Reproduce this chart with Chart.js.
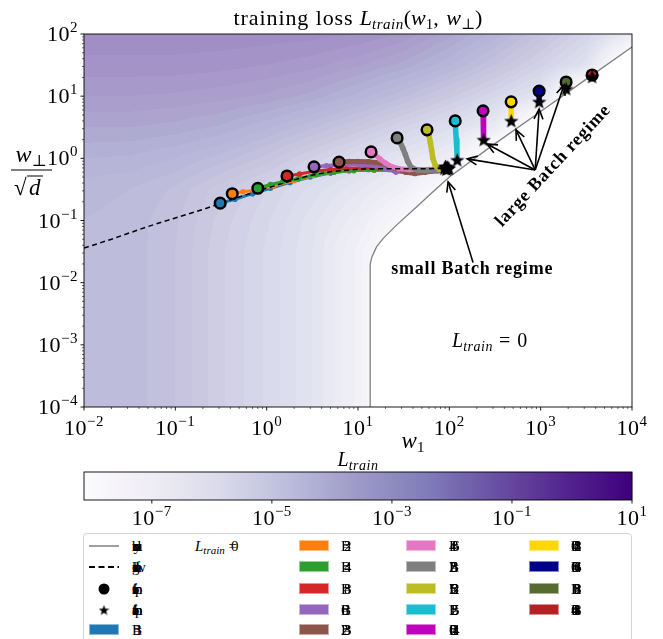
<!DOCTYPE html>
<html>
<head>
<meta charset="utf-8">
<script src="https://cdn.jsdelivr.net/npm/chart.js@4.4.1/dist/chart.umd.min.js"></script>
<style>
 html,body{margin:0;padding:0;background:#fff;overflow:hidden}
 #wrap{position:relative;width:663px;height:639px;overflow:hidden}
 #c{position:absolute;left:0;top:0}
 #legend{position:absolute;left:83px;top:533px;width:549px;height:130px;box-sizing:border-box;border:1px solid #d4d4d4;border-radius:4px;background:#fff;font-family:'Liberation Serif',serif;font-size:15px;color:#000}
 .item{position:absolute;height:20px}
 .item canvas{position:absolute;left:0;top:0}
 .lab{position:absolute;top:1px;white-space:nowrap;line-height:18px}
 .stk{position:absolute;left:0;top:0}
</style>
</head>
<body>
<div id="wrap"><canvas id="c" width="663" height="639"></canvas><div id="legend"></div></div>
<script>
// ---------------- data ----------------
const w1TickExps = [-2, -1, 0, 1, 2, 3, 4];
const wpTickExps = [-4, -3, -2, -1, 0, 1, 2];
const cbTickExps = [-7, -5, -3, -1, 1];
const cbRange = [-8.13, 1];

// L_train = 0 boundary
const boundaryW1 = [13.6, 13.6, 14.2, 16, 19, 26.6, 44, 73, 100, 300, 1000, 3000, 10000];
const boundaryWp = [1e-4, 0.02, 0.026, 0.038, 0.052, 0.085, 0.167, 0.33, 0.5, 1.63, 5.67, 17.8, 62];

// dashed reference curve
const dashW1 = [0.01, 0.02, 0.05, 0.1, 0.2, 0.3, 0.5, 1, 2, 3, 5, 10, 20, 50, 92];
const dashWp = [0.036, 0.05, 0.08, 0.11, 0.15, 0.185, 0.24, 0.33, 0.45, 0.53, 0.61, 0.67, 0.68, 0.68, 0.69];

// trajectories (first point = start circle, last point = final star)
const seriesColors = ['#1f77b4', '#ff7f0e', '#2ca02c', '#d62728', '#9467bd', '#8c564b', '#e377c2', '#7f7f7f', '#bcbd22', '#17becf', '#bf00bf', '#ffd700', '#00008b', '#556b2f', '#b22222'];
const seriesLabels = ['B = 1', 'B = 2', 'B = 4', 'B = 8', 'B = 16', 'B = 32', 'B = 64', 'B = 128', 'B = 256', 'B = 512', 'B = 1024', 'B = 2048', 'B = 4096', 'B = 8192', 'B = 16384'];
const trajW1 = [
  [0.31, 0.45, 0.7, 1.1, 1.8, 3, 5, 8, 13, 22, 38, 60, 88],
  [0.42, 0.55, 0.8, 1.2, 2, 3.3, 5.5, 9, 15, 25, 42, 65, 90],
  [0.8, 1.1, 1.5, 2.2, 3.5, 5.5, 9, 15, 25, 40, 62, 93],
  [1.67, 2.3, 3.3, 5, 7.5, 11, 17, 27, 42, 65, 95],
  [3.3, 4.5, 6, 8, 11, 15, 20, 26, 35, 50, 70, 91],
  [6.2, 8, 10, 13, 17, 21, 26, 33, 42, 55, 75, 96],
  [13.9, 15.5, 17.5, 20, 23, 28, 36, 48, 65, 94],
  [26.8, 29, 31, 33, 35, 38, 45, 58, 75, 97],
  [57, 60, 62, 64, 66, 70, 78, 88, 99],
  [116, 117, 119, 121, 122],
  [234, 236, 238],
  [475, 475, 476],
  [962, 962, 963],
  [1900, 1900],
  [3660, 3660]
];
const trajWp = [
  [0.19, 0.22, 0.27, 0.33, 0.41, 0.5, 0.58, 0.63, 0.66, 0.66, 0.65, 0.66, 0.68],
  [0.27, 0.29, 0.31, 0.36, 0.44, 0.53, 0.6, 0.64, 0.65, 0.64, 0.63, 0.64, 0.72],
  [0.33, 0.38, 0.42, 0.47, 0.55, 0.6, 0.64, 0.65, 0.64, 0.63, 0.64, 0.66],
  [0.52, 0.56, 0.62, 0.66, 0.69, 0.7, 0.7, 0.68, 0.66, 0.65, 0.71],
  [0.73, 0.76, 0.79, 0.8, 0.78, 0.75, 0.68, 0.6, 0.6, 0.62, 0.64, 0.74],
  [0.87, 0.89, 0.89, 0.88, 0.85, 0.78, 0.68, 0.6, 0.57, 0.6, 0.63, 0.68],
  [1.27, 1.12, 0.97, 0.84, 0.74, 0.68, 0.66, 0.66, 0.66, 0.72],
  [2.13, 1.8, 1.45, 1.15, 0.9, 0.72, 0.64, 0.64, 0.65, 0.7],
  [2.87, 2.3, 1.8, 1.35, 1.0, 0.78, 0.67, 0.66, 0.69],
  [4.0, 3.0, 2.0, 1.3, 0.94],
  [5.8, 3.6, 1.98],
  [8.1, 5.8, 4.0],
  [12.1, 10, 8.1],
  [16.9, 13.1],
  [21.9, 20.4]
];

// estimated log10(L_train) read from the background shading
const gridLogW1 = [-2, -1.5, -1, -0.5, 0, 0.5, 1, 1.5, 2, 2.5, 3, 3.5, 4];
const gridLogWp = [-4, -3, -2, -1.5, -1, -0.5, 0, 0.5, 1, 1.5, 2];
const lossGrid = [
  [-3.0, -3.1, -3.5, -4.2, -4.8, -5.5, -6.6, -9, -9, -9, -9, -9, -9],
  [-3.0, -3.1, -3.5, -4.2, -4.8, -5.5, -6.6, -9, -9, -9, -9, -9, -9],
  [-3.0, -3.1, -3.5, -4.2, -4.8, -5.5, -6.6, -9, -9, -9, -9, -9, -9],
  [-3.0, -3.1, -3.5, -4.2, -4.8, -5.5, -6.6, -8, -9, -9, -9, -9, -9],
  [-3.0, -3.1, -3.45, -4.1, -4.7, -5.4, -6.2, -7.4, -9, -9, -9, -9, -9],
  [-2.9, -3.0, -3.3, -3.9, -4.5, -5.1, -5.7, -6.4, -8, -9, -9, -9, -9],
  [-2.5, -2.55, -2.75, -3.1, -3.6, -4.3, -5.0, -5.6, -6.2, -9, -9, -9, -9],
  [-2.0, -2.0, -2.1, -2.3, -2.7, -3.2, -3.8, -4.5, -5.2, -6.0, -9, -9, -9],
  [-1.5, -1.5, -1.55, -1.65, -1.8, -2.1, -2.6, -3.2, -3.9, -4.7, -5.6, -9, -9],
  [-1.1, -1.1, -1.1, -1.15, -1.25, -1.4, -1.7, -2.1, -2.7, -3.5, -4.4, -5.4, -9],
  [-0.8, -0.8, -0.8, -0.82, -0.85, -0.9, -1.0, -1.3, -1.9, -2.6, -3.5, -4.5, -6.0]
];

const legendLineLabels = ['boundary', 'gradient flow', 'first point', 'final point'];

// annotations (data coordinates)
const largeArrowTail = [871, 0.65];
const largeArrowHeads = [[157, 0.98], [259, 1.7], [537, 2.87], [962, 6.2], [1807, 15.2]];
const smallArrow = [[182, 0.021], [97, 0.42]];
const smallText = {text: 'small Batch regime', at: [178, 0.0161]};
const largeText = {text: 'large Batch regime', at: [1371, 0.755]};
const zeroText = {at: [280, 0.00116]};

// ---------------- helpers ----------------
const SERIF = "'Liberation Serif', 'DejaVu Serif', serif";
const PURPLES = [[252,251,253],[239,237,245],[218,218,235],[188,189,220],[158,154,200],[128,125,186],[106,81,163],[84,39,143],[63,0,125]];
function purples(t) {
  t = Math.max(0, Math.min(1, t));
  const s = t * 8, i = Math.min(7, Math.floor(s)), f = s - i;
  const a = PURPLES[i], b = PURPLES[i + 1];
  return [a[0] + (b[0] - a[0]) * f, a[1] + (b[1] - a[1]) * f, a[2] + (b[2] - a[2]) * f];
}
function findIdx(arr, v) {
  if (v <= arr[0]) return [0, 0];
  for (let i = 0; i < arr.length - 1; i++) {
    if (v <= arr[i + 1]) return [i, (v - arr[i]) / (arr[i + 1] - arr[i])];
  }
  return [arr.length - 2, 1];
}
function logLoss(lx, ly) {
  const [i, fx] = findIdx(gridLogW1, lx);
  const [j, fy] = findIdx(gridLogWp, ly);
  const a = lossGrid[j][i], b = lossGrid[j][i + 1], c = lossGrid[j + 1][i], d = lossGrid[j + 1][i + 1];
  return (a * (1 - fx) + b * fx) * (1 - fy) + (c * (1 - fx) + d * fx) * fy;
}
function setLS(ctx, v) { if ('letterSpacing' in ctx) ctx.letterSpacing = (v || 0) + 'px'; }
function richWidth(ctx, parts) {
  let w = 0;
  for (const p of parts) { ctx.font = p.f; setLS(ctx, p.ls); w += ctx.measureText(p.t).width + (p.dx || 0); }
  setLS(ctx, 0);
  return w;
}
function drawRich(ctx, parts, x, y, align) {
  const w = richWidth(ctx, parts);
  let cx = align === 'center' ? x - w / 2 : align === 'right' ? x - w : x;
  ctx.textAlign = 'left'; ctx.textBaseline = 'alphabetic';
  for (const p of parts) {
    ctx.font = p.f; setLS(ctx, p.ls);
    ctx.fillText(p.t, cx, y + (p.dy || 0));
    cx += ctx.measureText(p.t).width + (p.dx || 0);
  }
  setLS(ctx, 0);
}
function powParts(e) {
  return [{t: '10', f: '22px ' + SERIF, ls: 0.5}, {t: (e < 0 ? '\u2212' + (-e) : '' + e), f: '15px ' + SERIF, dy: -9, ls: 0.5}];
}
function arrow(ctx, x0, y0, x1, y1) {
  ctx.beginPath(); ctx.moveTo(x0, y0); ctx.lineTo(x1, y1); ctx.stroke();
  const a = Math.atan2(y1 - y0, x1 - x0), L = 11, w = 0.42;
  ctx.beginPath();
  ctx.moveTo(x1 - L * Math.cos(a - w), y1 - L * Math.sin(a - w));
  ctx.lineTo(x1, y1);
  ctx.lineTo(x1 - L * Math.cos(a + w), y1 - L * Math.sin(a + w));
  ctx.stroke();
}
function makeStar(size, color) {
  const c = document.createElement('canvas');
  c.width = size; c.height = size;
  const g = c.getContext('2d');
  const R = size / 2, r = R * 0.42;
  g.beginPath();
  for (let k = 0; k < 10; k++) {
    const ang = -Math.PI / 2 + k * Math.PI / 5;
    const rad = k % 2 === 0 ? R : r;
    const px = R + rad * Math.cos(ang), py = R + 0.5 + rad * Math.sin(ang);
    k === 0 ? g.moveTo(px, py) : g.lineTo(px, py);
  }
  g.closePath(); g.fillStyle = color; g.fill();
  return c;
}
const starImg = makeStar(15, '#000');

// ---------------- plugins ----------------
let fieldCache = null;
const fieldPlugin = {
  id: 'field',
  beforeDatasetsDraw(chart) {
    const {ctx, chartArea: ca, scales: {x, y}} = chart;
    const W = Math.round(ca.right - ca.left), H = Math.round(ca.bottom - ca.top);
    if (!fieldCache) {
      const img = ctx.createImageData(W, H);
      const step = 0.25, alpha = 0.6;
      const lxs = [], lys = [];
      for (let i = 0; i < W; i++) lxs.push(Math.log10(x.getValueForPixel(ca.left + i + 0.5)));
      for (let j = 0; j < H; j++) lys.push(Math.log10(y.getValueForPixel(ca.top + j + 0.5)));
      for (let j = 0; j < H; j++) {
        for (let i = 0; i < W; i++) {
          const L = logLoss(lxs[i], lys[j]);
          const q = Math.floor(L / step) * step + step / 2;
          const col = purples((q - cbRange[0]) / (cbRange[1] - cbRange[0]));
          const k = (j * W + i) * 4;
          img.data[k] = alpha * col[0] + (1 - alpha) * 255;
          img.data[k + 1] = alpha * col[1] + (1 - alpha) * 255;
          img.data[k + 2] = alpha * col[2] + (1 - alpha) * 255;
          img.data[k + 3] = 255;
        }
      }
      fieldCache = img;
    }
    ctx.putImageData(fieldCache, Math.round(ca.left), Math.round(ca.top));
  }
};

const decorPlugin = {
  id: 'decor',
  afterDraw(chart) {
    const {ctx, chartArea: ca, scales: {x, y}} = chart;
    ctx.save();
    ctx.fillStyle = '#000'; ctx.strokeStyle = '#000';
    // annotations
    ctx.lineWidth = 1.6;
    const tx = x.getPixelForValue(largeArrowTail[0]), ty = y.getPixelForValue(largeArrowTail[1]);
    for (const h of largeArrowHeads) arrow(ctx, tx, ty, x.getPixelForValue(h[0]), y.getPixelForValue(h[1]));
    arrow(ctx, x.getPixelForValue(smallArrow[0][0]), y.getPixelForValue(smallArrow[0][1]), x.getPixelForValue(smallArrow[1][0]), y.getPixelForValue(smallArrow[1][1]));
    ctx.font = 'bold 18px ' + SERIF; ctx.textAlign = 'center'; ctx.textBaseline = 'middle';
    setLS(ctx, 0.8);
    ctx.fillText(smallText.text, x.getPixelForValue(smallText.at[0]), y.getPixelForValue(smallText.at[1]));
    ctx.save();
    ctx.translate(x.getPixelForValue(largeText.at[0]), y.getPixelForValue(largeText.at[1]));
    ctx.rotate(-47 * Math.PI / 180);
    ctx.fillText(largeText.text, 0, 0);
    ctx.restore();
    setLS(ctx, 0);
    drawRich(ctx, [{t: 'L', f: 'italic 20px ' + SERIF}, {t: 'train', f: 'italic 14px ' + SERIF, dy: 4, ls: 0.5}, {t: ' = 0', f: '20px ' + SERIF, ls: 1}],
      x.getPixelForValue(zeroText.at[0]), y.getPixelForValue(zeroText.at[1]) + 6, 'center');

    // spines
    ctx.lineWidth = 0.9;
    ctx.strokeRect(ca.left, ca.top, ca.right - ca.left, ca.bottom - ca.top);
    // ticks
    const minorMul = [2, 3, 4, 5, 6, 7, 8, 9];
    ctx.beginPath();
    for (let e = -2; e < 4; e++) for (const m of minorMul) {
      const px = x.getPixelForValue(m * Math.pow(10, e));
      ctx.moveTo(px, ca.bottom); ctx.lineTo(px, ca.bottom + 2);
    }
    for (let e = -4; e < 2; e++) for (const m of minorMul) {
      const py = y.getPixelForValue(m * Math.pow(10, e));
      ctx.moveTo(ca.left, py); ctx.lineTo(ca.left - 2, py);
    }
    ctx.lineWidth = 0.6; ctx.stroke();
    ctx.beginPath();
    for (const e of w1TickExps) { const px = x.getPixelForValue(Math.pow(10, e)); ctx.moveTo(px, ca.bottom); ctx.lineTo(px, ca.bottom + 3.5); }
    for (const e of wpTickExps) { const py = y.getPixelForValue(Math.pow(10, e)); ctx.moveTo(ca.left, py); ctx.lineTo(ca.left - 3.5, py); }
    ctx.lineWidth = 0.9; ctx.stroke();
    // tick labels
    for (const e of w1TickExps) drawRich(ctx, powParts(e), x.getPixelForValue(Math.pow(10, e)), ca.bottom + 28, 'center');
    for (const e of wpTickExps) drawRich(ctx, powParts(e), ca.left - 6, y.getPixelForValue(Math.pow(10, e)) + 7, 'right');
    // axis labels
    drawRich(ctx, [{t: 'w', f: 'italic 23px ' + SERIF}, {t: '1', f: '15px ' + SERIF, dy: 4}], 413, 448, 'center');
    drawRich(ctx, [{t: 'w', f: 'italic 24px ' + SERIF}, {t: '\u22a5', f: '16px ' + SERIF, dy: 4}], 31, 162, 'center');
    ctx.lineWidth = 1;
    ctx.beginPath(); ctx.moveTo(11, 170); ctx.lineTo(52, 170); ctx.stroke();
    ctx.font = '23px ' + SERIF; ctx.textAlign = 'left'; ctx.textBaseline = 'alphabetic';
    ctx.fillText('\u221a', 14, 195);
    ctx.font = 'italic 23px ' + SERIF; ctx.fillText('d', 29, 195);
    ctx.beginPath(); ctx.moveTo(27, 176); ctx.lineTo(43, 176); ctx.stroke();
    // title
    const TF = '22px ' + SERIF, TI = 'italic 22px ' + SERIF, TS = '15px ' + SERIF;
    drawRich(ctx, [
      {t: 'training loss ', f: TF, ls: 0.9},
      {t: 'L', f: TI}, {t: 'train', f: 'italic 15px ' + SERIF, dy: 4, ls: 0.5},
      {t: '(', f: TF}, {t: 'w', f: TI}, {t: '1', f: TS, dy: 4},
      {t: ', ', f: TF, ls: 1}, {t: 'w', f: TI}, {t: '\u22a5', f: TS, dy: 4},
      {t: ')', f: TF}
    ], (ca.left + ca.right) / 2, 25, 'center');

    // colorbar
    const cbL = ca.left, cbR = ca.right, cbT = 472, cbB = 500;
    for (let i = 0; i < cbR - cbL; i++) {
      const col = purples((i + 0.5) / (cbR - cbL));
      ctx.fillStyle = `rgb(${col[0] | 0},${col[1] | 0},${col[2] | 0})`;
      ctx.fillRect(cbL + i, cbT, 1.2, cbB - cbT);
    }
    ctx.fillStyle = '#000'; ctx.lineWidth = 0.9;
    ctx.strokeRect(cbL, cbT, cbR - cbL, cbB - cbT);
    ctx.beginPath();
    for (const e of cbTickExps) {
      const px = cbL + (e - cbRange[0]) / (cbRange[1] - cbRange[0]) * (cbR - cbL);
      ctx.moveTo(px, cbB); ctx.lineTo(px, cbB + 3.5);
    }
    ctx.stroke();
    for (const e of cbTickExps) {
      const px = cbL + (e - cbRange[0]) / (cbRange[1] - cbRange[0]) * (cbR - cbL);
      drawRich(ctx, powParts(e), px, cbB + 25, 'center');
    }
    drawRich(ctx, [{t: 'L', f: 'italic 20px ' + SERIF}, {t: 'train', f: 'italic 14px ' + SERIF, dy: 4, ls: 0.5}], (cbL + cbR) / 2, 466, 'center');
    ctx.restore();
  }
};

// ---------------- datasets ----------------
const pts = (xs, ys) => xs.map((v, i) => ({x: v, y: ys[i]}));
const lineWidths = [3, 3, 3, 3.2, 3.5, 5, 5, 5.5, 5.5, 5.5, 5.5, 5.5, 5.5, 5.5, 4];
const datasets = [];
datasets.push({label: 'stars', data: trajW1.map((xs, i) => ({x: xs[xs.length - 1], y: trajWp[i][trajWp[i].length - 1]})),
  showLine: false, pointStyle: starImg, pointRadius: 7, order: 0});
datasets.push({label: 'circles', data: trajW1.map((xs, i) => ({x: xs[0], y: trajWp[i][0]})),
  showLine: false, pointStyle: 'circle', pointRadius: 5.3, pointBackgroundColor: seriesColors, pointBorderColor: '#000', pointBorderWidth: 2.5, order: 1});
datasets.push({label: 'dashed', data: pts(dashW1, dashWp), borderColor: '#000', borderWidth: 1.5, borderDash: [5, 3.5], pointRadius: 0, order: 2});
trajW1.forEach((xs, i) => {
  datasets.push({label: seriesLabels[i], data: pts(xs, trajWp[i]), borderColor: seriesColors[i], backgroundColor: seriesColors[i],
    borderWidth: lineWidths[i], pointRadius: i < 9 ? 2.8 : 0, pointBorderWidth: 0, borderCapStyle: 'round', borderJoinStyle: 'round',
    order: 50 - i});
});
datasets.push({label: 'boundary', data: pts(boundaryW1, boundaryWp), borderColor: '#808080', borderWidth: 1.3, pointRadius: 0,
  fill: 'start', backgroundColor: '#ffffff', order: 100});

new Chart(document.getElementById('c'), {
  type: 'line',
  data: {datasets},
  options: {
    responsive: false, animation: false, devicePixelRatio: 1,
    layout: {padding: {left: 0, right: 31, top: 34, bottom: 0}},
    plugins: {legend: {display: false}, tooltip: {enabled: false}, title: {display: false}},
    elements: {line: {tension: 0}},
    scales: {
      x: {type: 'logarithmic', min: 1e-2, max: 1e4, grid: {display: false}, border: {display: false}, ticks: {display: false},
        afterFit(s) { s.height = 232; }},
      y: {type: 'logarithmic', min: 1e-4, max: 1e2, grid: {display: false}, border: {display: false}, ticks: {display: false},
        afterFit(s) { s.width = 84; }}
    }
  },
  plugins: [fieldPlugin, decorPlugin]
});

// ---------------- legend ----------------
const legend = document.getElementById('legend');
const rowTops = [2, 23, 45, 66, 86];
const colHandle = [4, 214, 321, 444];
const colLabel = [48, 257, 365, 487];
function stacked(text) {
  const span = document.createElement('span');
  span.className = 'lab';
  span.style.position = 'absolute';
  const chars = text.replace(/ /g, '');
  for (let k = 0; k < chars.length; k++) {
    const s = document.createElement('span'); s.className = 'stk'; s.textContent = chars[k];
    s.style.left = (k % 3) * 1.5 + 'px';
    span.appendChild(s);
  }
  return span;
}
const entries = [];
entries.push({kind: 'line', label: legendLineLabels[0], math: true});
entries.push({kind: 'dash', label: legendLineLabels[1]});
entries.push({kind: 'circle', label: legendLineLabels[2]});
entries.push({kind: 'star', label: legendLineLabels[3]});
seriesColors.forEach((c, i) => entries.push({kind: 'patch', color: c, label: seriesLabels[i]}));
entries.forEach((en, idx) => {
  const col = Math.floor(idx / 5), row = idx % 5;
  const item = document.createElement('div');
  item.className = 'item';
  item.style.left = '0px'; item.style.top = rowTops[row] + 'px'; item.style.width = '540px';
  const cv = document.createElement('canvas'); cv.width = 32; cv.height = 20;
  cv.style.left = colHandle[col] + 'px';
  const g = cv.getContext('2d');
  if (en.kind === 'line') { g.strokeStyle = '#808080'; g.lineWidth = 1.5; g.beginPath(); g.moveTo(1, 10); g.lineTo(31, 10); g.stroke(); }
  if (en.kind === 'dash') { g.strokeStyle = '#000'; g.lineWidth = 1.8; g.setLineDash([6, 3.5]); g.beginPath(); g.moveTo(1, 10); g.lineTo(31, 10); g.stroke(); }
  if (en.kind === 'circle') { g.fillStyle = '#000'; g.beginPath(); g.arc(16, 10, 5.5, 0, 2 * Math.PI); g.fill(); }
  if (en.kind === 'star') { g.drawImage(makeStar(11, '#000'), 10.5, 4.5); }
  if (en.kind === 'patch') { g.fillStyle = en.color; g.fillRect(1, 4, 30, 11); g.strokeStyle = 'rgba(255,255,255,0.5)'; g.strokeRect(1.5, 4.5, 29, 10); }
  item.appendChild(cv);
  const lab = stacked(en.label);
  lab.style.left = colLabel[col] + 'px';
  item.appendChild(lab);
  if (en.math) {
    const m = document.createElement('span');
    m.className = 'lab'; m.style.left = '111px';
    m.innerHTML = '<i>L</i><sub style="font-size:11px;font-style:italic;vertical-align:-3px">train</sub> <span style="letter-spacing:-6px">=</span>0';
    item.appendChild(m);
  }
  legend.appendChild(item);
});
</script>
</body>
</html>
